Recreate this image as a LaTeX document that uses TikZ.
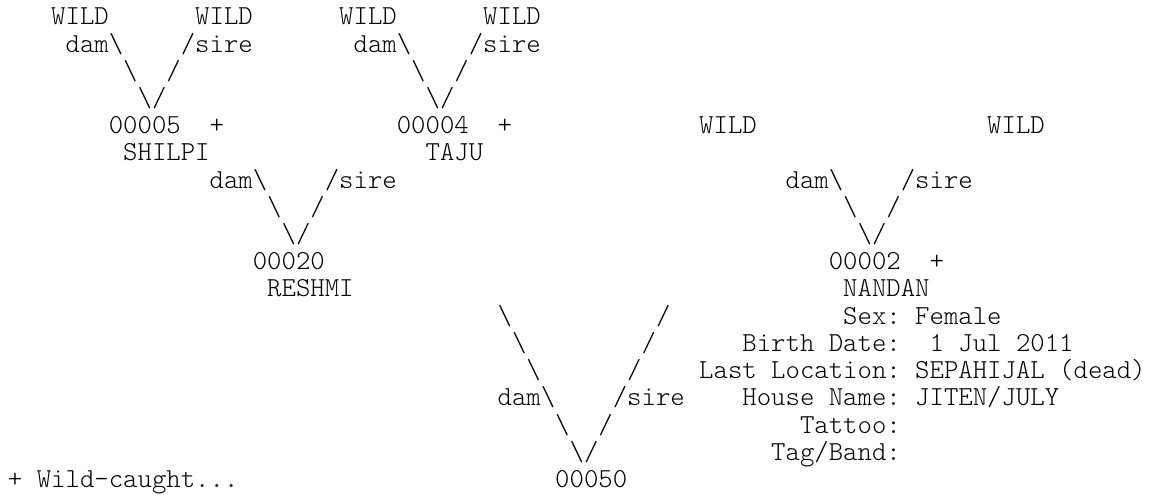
\documentclass[tikz,border=0pt]{standalone}
\usepackage{fontspec}
\newfontfamily\pedfont{lmmonolt10-regular.otf}
\begin{document}
\def\cw{14.4}
\def\lh{27.2}
\def\xo{8}
\def\yb{471}
\newcommand\ptxt[4]{\node[txt] (#1) at ({\xo+#2*\cw},{\yb-#3*\lh}) {#4};}
\newcommand\bs{\textbackslash}
\begin{tikzpicture}[x=1pt,y=1pt,
  txt/.style={anchor=base west, inner sep=0pt, outer sep=0pt,
    font=\fontsize{27.43}{27.2}\pedfont\selectfont, text=black}]
\useasboundingbox (0,0) rectangle (1149,496);
% line 0
\ptxt{w1}{3}{0}{WILD}
\ptxt{w2}{13}{0}{WILD}
\ptxt{w3}{23}{0}{WILD}
\ptxt{w4}{33}{0}{WILD}
% line 1
\ptxt{d1}{4}{1}{dam\bs}
\ptxt{s1}{12}{1}{/sire}
\ptxt{d2}{24}{1}{dam\bs}
\ptxt{s2}{32}{1}{/sire}
% line 2
\ptxt{a1}{8}{2}{\bs}
\ptxt{b1}{11}{2}{/}
\ptxt{a2}{28}{2}{\bs}
\ptxt{b2}{31}{2}{/}
% line 3
\ptxt{v1}{9}{3}{\bs/}
\ptxt{v2}{29}{3}{\bs/}
% line 4
\ptxt{id5}{7}{4}{00005}
\ptxt{p5}{14}{4}{+}
\ptxt{id4}{27}{4}{00004}
\ptxt{p4}{34}{4}{+}
\ptxt{w5}{48}{4}{WILD}
\ptxt{w6}{68}{4}{WILD}
% line 5
\ptxt{n5}{8}{5}{SHILPI}
\ptxt{n4}{29}{5}{TAJU}
% line 6
\ptxt{d3}{14}{6}{dam\bs}
\ptxt{s3}{22}{6}{/sire}
\ptxt{d4}{54}{6}{dam\bs}
\ptxt{s4}{62}{6}{/sire}
% line 7
\ptxt{a3}{18}{7}{\bs}
\ptxt{b3}{21}{7}{/}
\ptxt{a4}{58}{7}{\bs}
\ptxt{b4}{61}{7}{/}
% line 8
\ptxt{v3}{19}{8}{\bs/}
\ptxt{v4}{59}{8}{\bs/}
% line 9
\ptxt{id20}{17}{9}{00020}
\ptxt{id2}{57}{9}{00002}
\ptxt{p2}{64}{9}{+}
% line 10
\ptxt{n20}{18}{10}{RESHMI}
\ptxt{n2}{58}{10}{NANDAN}
% line 11
\ptxt{a5}{34}{11}{\bs}
\ptxt{b5}{45}{11}{/}
\ptxt{lsex}{58}{11}{Sex:}
\ptxt{vsex}{63}{11}{Female}
% line 12
\ptxt{a6}{35}{12}{\bs}
\ptxt{b6}{44}{12}{/}
\ptxt{lbd}{51}{12}{Birth Date:}
\ptxt{vbd}{64}{12}{1 Jul 2011}
% line 13
\ptxt{a7}{36}{13}{\bs}
\ptxt{b7}{43}{13}{/}
\ptxt{lloc}{48}{13}{Last Location:}
\ptxt{vloc}{63}{13}{SEPAHIJAL (dead)}
% line 14
\ptxt{d5}{34}{14}{dam\bs}
\ptxt{s5}{42}{14}{/sire}
\ptxt{lhn}{51}{14}{House Name:}
\ptxt{vhn}{63}{14}{JITEN/JULY}
% line 15
\ptxt{a8}{38}{15}{\bs}
\ptxt{b8}{41}{15}{/}
\ptxt{ltat}{55}{15}{Tattoo:}
% line 16
\ptxt{v5}{39}{16}{\bs/}
\ptxt{ltag}{53}{16}{Tag/Band:}
% line 17
\ptxt{note}{0}{17}{+ Wild-caught...}
\ptxt{id50}{38}{17}{00050}
\end{tikzpicture}
\end{document}
